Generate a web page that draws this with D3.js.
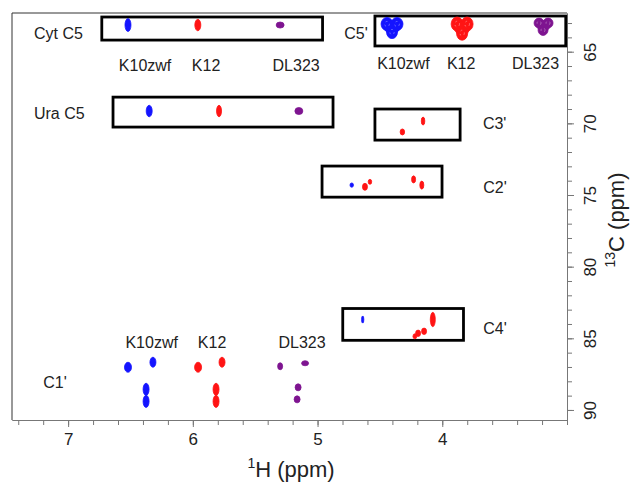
<!DOCTYPE html>
<html><head><meta charset="utf-8">
<script src="https://cdn.jsdelivr.net/npm/d3@7/dist/d3.min.js"></script>
<style>
html,body{margin:0;padding:0;background:#fff;}
svg text{font-family:"Liberation Sans",Arial,sans-serif;fill:#222;}
</style></head>
<body><svg id="chart" width="632" height="484"></svg>
<script>
// ---- axis ticks ----
const xMajorTicks = [7, 6, 5, 4];
const yMajorTicks = [65, 70, 75, 80, 85, 90];

// ---- peaks: [1H ppm, 13C ppm, width 1H ppm, width 13C ppm] ----
const peaksK10zwf = [
  [6.52, 63.14, 0.048, 0.90],
  [6.35, 69.14, 0.048, 0.80],
  [4.443, 63.07, 0.096, 0.91], [4.363, 63.07, 0.096, 0.91], [4.403, 63.63, 0.088, 0.91], [4.403, 63.30, 0.12, 0.95],
  [4.726, 74.31, 0.028, 0.30],
  [4.638, 83.69, 0.018, 0.50],
  [6.52, 87.02, 0.056, 0.70], [6.32, 86.67, 0.048, 0.70],
  [6.375, 88.56, 0.048, 0.85], [6.375, 89.40, 0.048, 0.85]
];
const peaksK12 = [
  [5.96, 63.14, 0.048, 0.80],
  [5.79, 69.14, 0.040, 0.80],
  [3.881, 63.07, 0.096, 0.98], [3.801, 63.07, 0.096, 0.98], [3.841, 63.70, 0.090, 1.00], [3.841, 63.35, 0.12, 1.0],
  [4.32, 70.60, 0.036, 0.42], [4.154, 69.84, 0.028, 0.56],
  [4.62, 74.43, 0.040, 0.49], [4.58, 74.08, 0.028, 0.35], [4.23, 73.91, 0.032, 0.49], [4.164, 74.31, 0.032, 0.56],
  [4.076, 83.69, 0.040, 1.00], [4.194, 84.65, 0.040, 0.45], [4.146, 84.51, 0.040, 0.45], [4.22, 84.86, 0.030, 0.35],
  [5.958, 87.02, 0.056, 0.70], [5.766, 86.67, 0.048, 0.70],
  [5.814, 88.56, 0.048, 0.85], [5.814, 89.40, 0.048, 0.85]
];
const peaksDL323 = [
  [5.30, 63.14, 0.064, 0.42],
  [5.15, 69.14, 0.064, 0.49],
  [3.224, 63.00, 0.080, 0.70], [3.152, 63.00, 0.080, 0.70], [3.192, 63.49, 0.080, 0.75], [3.188, 63.20, 0.10, 0.75],
  [5.30, 86.95, 0.040, 0.49], [5.10, 86.74, 0.056, 0.35],
  [5.156, 88.42, 0.048, 0.49], [5.164, 89.26, 0.048, 0.49]
];
const strainNames = ["K10zwf", "K12", "DL323"];

// ---- assignment boxes: [name, H left, H right, C top, C bottom] ----
const boxes = [
  ["Cyt C5", 6.73, 4.96, 62.58, 64.19],
  ["Ura C5", 6.64, 4.876, 68.17, 70.26],
  ["C5'", 4.54, 3.01, 62.51, 64.60],
  ["C3'", 4.54, 3.857, 69.00, 71.17],
  ["C2'", 4.964, 4.002, 72.98, 75.15],
  ["C4'", 4.798, 3.83, 82.92, 85.14]
];
// ---- region labels: [text, H, C, anchor] ----
const regionLabels = [
  ["Cyt C5", 7.274, 63.70, "start"],
  ["Ura C5", 7.274, 69.30, "start"],
  ["C5'", 4.692, 63.70, "middle"],
  ["C3'", 3.58, 69.98, "middle"],
  ["C2'", 3.577, 74.43, "middle"],
  ["C4'", 3.577, 84.30, "middle"],
  ["C1'", 7.105, 88.05, "middle"]
];
// ---- strain label rows: [C, H K10zwf, H K12, H DL323] ----
const strainRows = [
  [65.93, 6.383, 5.894, 5.172],
  [65.81, 4.312, 3.849, 3.252],
  [85.25, 6.33, 5.846, 5.124]
];

const svg = d3.select("#chart");
const x = d3.scaleLinear().domain([7.45, 3.0]).range([12, 567]);
const y = d3.scaleLinear().domain([62.3, 90.7]).range([13, 420]);
const axisColor = "#777";

// frame top & left
svg.append("line").attr("x1", x.range()[0]).attr("x2", x.range()[1])
  .attr("y1", y.range()[0]).attr("y2", y.range()[0]).attr("stroke", "#333").attr("stroke-width", 1);
svg.append("line").attr("x1", x.range()[0]).attr("x2", x.range()[0])
  .attr("y1", y.range()[0]).attr("y2", y.range()[1]).attr("stroke", "#333").attr("stroke-width", 1);

// bottom axis
const xMinor = d3.range(74, 29, -2).map(d => d / 10);
const gxm = svg.append("g").attr("transform", `translate(0,${y.range()[1]})`)
  .call(d3.axisBottom(x).tickValues(xMinor).tickSize(5).tickSizeOuter(0).tickFormat(""));
const gx = svg.append("g").attr("transform", `translate(0,${y.range()[1]})`)
  .call(d3.axisBottom(x).tickValues(xMajorTicks).tickSize(7).tickSizeOuter(0).tickPadding(6).tickFormat(d3.format("d")));
// right axis
const yMinor = d3.range(63, 91, 1);
const gym = svg.append("g").attr("transform", `translate(${x.range()[1]},0)`)
  .call(d3.axisRight(y).tickValues(yMinor).tickSize(5).tickSizeOuter(0).tickFormat(""));
const gy = svg.append("g").attr("transform", `translate(${x.range()[1]},0)`)
  .call(d3.axisRight(y).tickValues(yMajorTicks).tickSize(7).tickSizeOuter(0).tickFormat(d3.format("d")));
[gxm, gx, gym, gy].forEach(g => {
  g.selectAll("path.domain").attr("stroke", axisColor);
  g.selectAll(".tick line").attr("stroke", axisColor);
});
gx.selectAll("text").attr("font-size", 17).attr("fill", "#222").attr("font-family", "Liberation Sans, Arial, sans-serif");
gy.selectAll("text")
  .attr("font-size", 17).attr("fill", "#222").attr("font-family", "Liberation Sans, Arial, sans-serif")
  .attr("x", null).attr("dy", null).attr("text-anchor", "middle")
  .attr("transform", "translate(29,0) rotate(-90)");

// axis titles
const xt = svg.append("text").attr("x", 291).attr("y", 477).attr("text-anchor", "middle").attr("font-size", 22);
xt.append("tspan").attr("font-size", 14).attr("dy", -9).text("1");
xt.append("tspan").attr("dy", 9).text("H (ppm)");
const yt = svg.append("text").attr("transform", "translate(624,220) rotate(-90)").attr("text-anchor", "middle").attr("font-size", 22);
yt.append("tspan").attr("font-size", 14).attr("dy", -9).text("13");
yt.append("tspan").attr("dy", 9).text("C (ppm)");

// boxes
svg.append("g").selectAll("rect").data(boxes).join("rect")
  .attr("x", d => x(d[1])).attr("y", d => y(d[3]))
  .attr("width", d => x(d[2]) - x(d[1])).attr("height", d => y(d[4]) - y(d[3]))
  .attr("fill", "none").attr("stroke", "#000").attr("stroke-width", 2.8);

// region labels
svg.append("g").selectAll("text").data(regionLabels).join("text")
  .attr("x", d => x(d[1])).attr("y", d => y(d[2])).attr("dy", "0.36em")
  .attr("text-anchor", d => d[3]).attr("font-size", 16).text(d => d[0]);

// strain labels
const sl = [];
strainRows.forEach(r => strainNames.forEach((n, i) => sl.push([n, r[i + 1], r[0]])));
svg.append("g").selectAll("text").data(sl).join("text")
  .attr("x", d => x(d[1])).attr("y", d => y(d[2])).attr("dy", "0.36em")
  .attr("text-anchor", "middle").attr("font-size", 16).text(d => d[0]);

// peaks
const series = [[peaksK10zwf, "#1414ff"], [peaksK12, "#ff1414"], [peaksDL323, "#7e1490"]];
series.forEach(([pk, col]) => {
  const g = svg.append("g");
  g.selectAll("ellipse.p").data(pk).join("ellipse").attr("class", "p")
    .attr("cx", d => x(d[0])).attr("cy", d => y(d[1]))
    .attr("rx", d => Math.abs(x(d[0] + d[2] / 2) - x(d[0])))
    .attr("ry", d => Math.abs(y(d[1] + d[3] / 2) - y(d[1])))
    .attr("fill", col).attr("stroke", col).attr("stroke-width", 0.8);
  g.selectAll("ellipse.c").data(pk.filter(d => d[2] > 0.07 && d[2] < 0.1)).join("ellipse").attr("class", "c")
    .attr("cx", d => x(d[0])).attr("cy", d => y(d[1]))
    .attr("rx", d => Math.abs(x(d[0] + d[2] / 2) - x(d[0])) * 0.4)
    .attr("ry", d => Math.abs(y(d[1] + d[3] / 2) - y(d[1])) * 0.4)
    .attr("fill", "none").attr("stroke", "#fff").attr("stroke-opacity", 0.55)
    .attr("stroke-width", 0.6).attr("stroke-dasharray", "2,3");
});
</script></body></html>
